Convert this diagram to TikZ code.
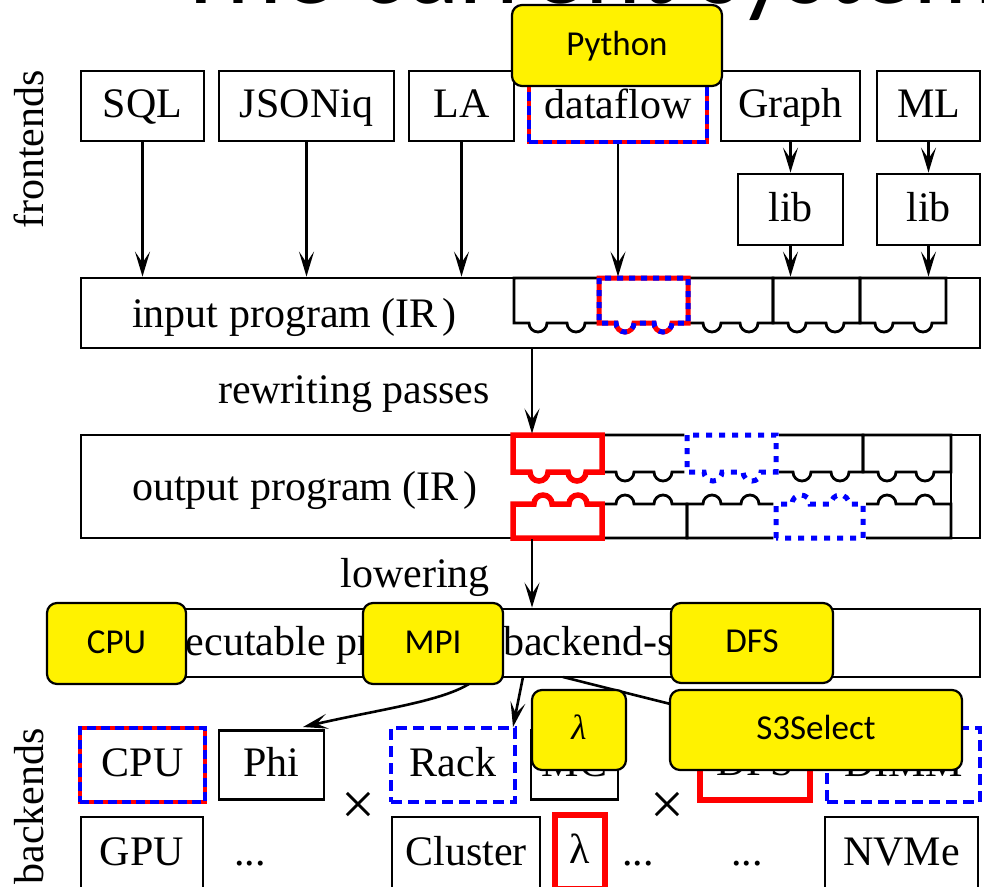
\documentclass[tikz,border=0pt]{standalone}
\usepackage{fontspec}
\setmainfont{Liberation Serif}
\newfontfamily\calfont{Carlito}
\usetikzlibrary{arrows.meta}
\newcommand\serf{\fontsize{42}{50}\selectfont}
\newcommand\ylfont{\calfont\fontsize{35}{42}\selectfont}
% piece with bumps downward: style, x1, x2, ytop, ybot, b1, b2
\newcommand\pcdown[7]{%
  \draw[#1] (#2,#4) -- (#2,#5) -- ({#6-9},#5) arc[start angle=180,end angle=360,radius=9pt]
   -- ({#7-9},#5) arc[start angle=180,end angle=360,radius=9pt] -- (#3,#5) -- (#3,#4) -- cycle;}
% piece with bumps upward: style, x1, x2, ytop, ybot, b1, b2
\newcommand\pcup[7]{%
  \draw[#1] (#2,#5) -- (#2,#4) -- ({#6-9},#4) arc[start angle=180,end angle=0,radius=9pt]
   -- ({#7-9},#4) arc[start angle=180,end angle=0,radius=9pt] -- (#3,#4) -- (#3,#5) -- cycle;}
\begin{document}
\begin{tikzpicture}[x=1pt,y=-1pt,
  fbox/.style={draw, line width=2.8pt, inner sep=0pt, font=\serf, text height=29pt, text depth=6pt},
  plain/.style={inner sep=0pt, font=\serf},
  timesx/.style={inner sep=0pt, font=\fontsize{60}{70}\selectfont},
  blk/.style={draw=black, line width=2.8pt},
  rb/.style={draw=red, line width=4.5pt, postaction={draw=blue, line width=4.5pt, dash pattern=on 9pt off 5pt}},
  rbp/.style={draw=red, line width=5pt, postaction={draw=blue, line width=5pt, dash pattern=on 6pt off 6pt}},
  bdash/.style={draw=blue, line width=4.5pt, dash pattern=on 11pt off 6pt},
  bdot/.style={preaction={draw=white, line width=5.5pt}, draw=blue, line width=5pt, dash pattern=on 6pt off 7pt},
  rthick/.style={draw=red, line width=5.5pt},
  arr/.style={-{Stealth[length=25pt,width=15pt,inset=11pt]}, line width=2.6pt},
  ybox/.style={draw=black, fill=yellow, line width=2.2pt, rounded corners=10pt, font=\ylfont, inner sep=0pt, text height=24pt, text depth=5pt}
]
\useasboundingbox (0,0) rectangle (984,886);
\clip (0,0) rectangle (984,886);

% title (cut off at top)
\node[font=\calfont\fontsize{106}{120}\selectfont, anchor=base west, inner sep=0pt] (title) at (175,3) {The current system};

% side labels
\node[plain, rotate=90, anchor=base east] (fe) at (43,70) {frontends};
\node[plain, rotate=90, anchor=base east] (be) at (43,728) {backends};

% frontends
\node[fbox, minimum width=123pt, minimum height=70pt] (sql) at (142.5,106) {SQL};
\node[fbox, minimum width=175pt, minimum height=70pt] (json) at (306.5,106) {JSONiq};
\node[fbox, minimum width=105pt, minimum height=70pt] (la) at (461.5,106) {LA};
\node[fbox, rb, minimum width=178pt, minimum height=71pt] (df) at (618,106.5) {dataflow};
\node[fbox, minimum width=139pt, minimum height=70pt] (graph) at (790.5,106) {Graph};
\node[fbox, minimum width=103pt, minimum height=70pt] (ml) at (928.5,106) {ML};
\node[fbox, minimum width=105pt, minimum height=71pt] (glib) at (790.5,209.5) {lib};
\node[fbox, minimum width=103pt, minimum height=71pt] (mlib) at (928.5,209.5) {lib};

% IR boxes
\node[fbox, minimum width=899pt, minimum height=70pt] (in) at (530.5,313) {};
\node[plain, anchor=base west] (intext) at (132,327) {input program (IR\kern5pt)};
\node[fbox, minimum width=899pt, minimum height=103pt] (out) at (530.5,486.5) {};
\node[plain, anchor=base west] (outtext) at (132,500) {output program (IR\kern5pt)};
\node[fbox, minimum width=899pt, minimum height=68pt] (exe) at (530.5,643) {};
\node[plain, anchor=base west] (exetext) at (146,655) {executable program (backend-specific)};

\node[plain, anchor=base east] (rwl) at (490,403) {rewriting passes};
\node[plain, anchor=base east] (lwl) at (490,587) {lowering};

% pieces in input program
\pcdown{blk}{514}{599}{278}{323}{538}{576}
\pcdown{blk}{688}{773}{278}{323}{712}{749}
\pcdown{blk}{773}{860}{278}{323}{797}{835}
\pcdown{blk}{860}{946}{278}{323}{884}{923}
\pcdown{rbp}{599}{688}{278}{323}{625}{663}

% pieces in output program
\pcdown{blk}{602}{687}{435}{472}{625}{663}
\pcdown{blk}{776}{863}{435}{472}{802}{840}
\pcdown{blk}{863}{951}{435}{472}{887}{925}
\pcup{blk}{602}{687}{504}{538}{625}{663}
\pcup{blk}{687}{776}{504}{538}{712}{750}
\pcup{blk}{863}{951}{504}{538}{887}{925}
\draw[blk] (951,435) -- (951,538);
\pcdown{rthick}{513}{602}{435}{472}{539}{577}
\pcup{rthick}{513}{602}{504}{538}{543}{578}
\pcdown{bdot}{687}{776}{435}{472}{713}{752}
\pcup{bdot}{776}{863}{504}{538}{801}{840}

% arrows from frontends
\draw[arr] (sql.south) -- (sql.south |- in.north);
\draw[arr] (json.south) -- (json.south |- in.north);
\draw[arr] (la.south) -- (la.south |- in.north);
\draw[arr] (df.south) -- (df.south |- in.north);
\draw[arr] (graph.south) -- (glib.north);
\draw[arr] (ml.south) -- (mlib.north);
\draw[arr] (glib.south) -- (glib.south |- in.north);
\draw[arr] (mlib.south) -- (mlib.south |- in.north);

\coordinate (rw) at (532,0);
\draw[arr] (in.south -| rw) -- (out.north -| rw);
\draw[arr] (out.south -| rw) -- (exe.north -| rw);

% backends
\node[fbox, rb, minimum width=125pt, minimum height=74pt] (bcpu) at (142.5,765) {CPU};
\node[fbox, minimum width=105pt, minimum height=69pt] (phi) at (271.5,765) {Phi};
\node[fbox, bdash, minimum width=124pt, minimum height=74pt] (rack) at (453,765) {Rack};
\node[fbox, minimum width=87pt, minimum height=69pt] (mc) at (574.5,765) {MC};
\node[fbox, rthick, minimum width=110pt, minimum height=72pt] (bdfs) at (755,764) {DFS};
\node[fbox, bdash, minimum width=153pt, minimum height=74pt] (dimm) at (903.5,765) {DIMM};

\node[fbox, minimum width=122pt, minimum height=74pt] (gpu) at (142,854) {GPU};
\node[fbox, minimum width=148pt, minimum height=74pt] (cluster) at (466,854) {Cluster};
\node[fbox, rthick, minimum width=50pt, minimum height=74pt] (lam) at (580,852) {λ};
\node[fbox, minimum width=153pt, minimum height=74pt] (nvme) at (901.5,854) {NVMe};
\node[fbox, draw=none] (d1) at (250,854) {...};
\node[fbox, draw=none] (d2) at (638,854) {...};
\node[fbox, draw=none] (d3) at (747,854) {...};
\node[timesx] (x1) at (358,808) {×};
\node[timesx] (x2) at (667,808) {×};

% arrows from executable program
\coordinate (e1) at (478,677);
\coordinate (e2) at (523,677);
\coordinate (e3) at (563,677);
\coordinate (phiT) at (303,727);
\coordinate (rackT) at (513,727);
\draw[arr] (e1) .. controls (455,700) and (385,708) .. (phiT);
\draw[arr] (e2) -- (rackT);
\draw[arr] (e3) -- (bdfs.north);

% yellow overlays
\node[ybox, minimum width=210pt, minimum height=81pt] (py) at (617,45.5) {Python};
\node[ybox, minimum width=139pt, minimum height=81pt] (ycpu) at (116.5,643.5) {CPU};
\node[ybox, minimum width=140pt, minimum height=81pt] (ympi) at (433,643.5) {MPI};
\node[ybox, minimum width=162pt, minimum height=80pt] (ydfs) at (752,643) {DFS};
\node[ybox, minimum width=94pt, minimum height=80pt] (ylam) at (579,730) {\rmfamily\itshape λ};
\node[ybox, minimum width=292pt, minimum height=80pt] (ys3) at (816,730) {S3Select};
\end{tikzpicture}
\end{document}
